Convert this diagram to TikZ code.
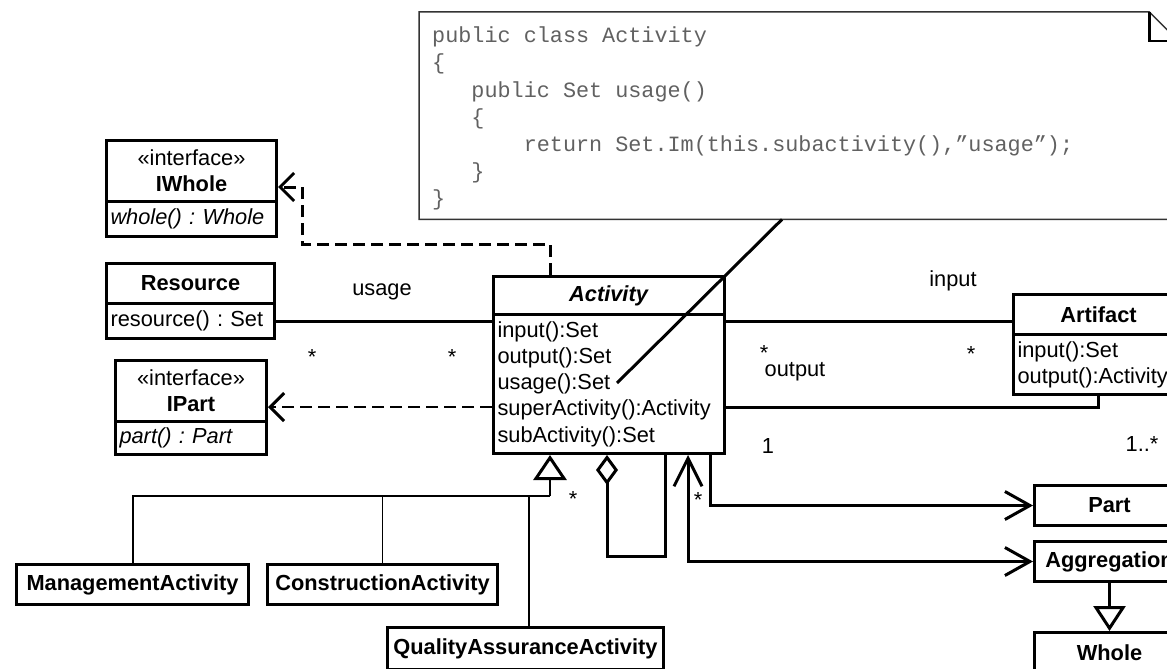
\documentclass[tikz,border=0pt]{standalone}
\usepackage{fontspec}
\setmainfont{Liberation Sans}
\setmonofont{Liberation Mono}
\usetikzlibrary{arrows.meta}
\frenchspacing

\begin{document}
\begin{tikzpicture}[x=1pt,y=-1pt,
		every node/.style={font=\fontsize{21.8}{26.2}\selectfont},
		cls/.style={draw,line width=3pt,inner xsep=4pt,inner ysep=0pt,anchor=north west,align=center},
		ops/.style={cls,align=left},
		lbl/.style={anchor=base,inner sep=0pt},
		code/.style={anchor=base west,inner sep=0pt,text=black!62,font=\ttfamily\fontsize{21.8}{26.2}\selectfont},
		assoc/.style={line width=3pt},
		realize/.style={dash pattern=on 12pt off 6pt,-{Straight Barb[length=14pt,width=28pt,line width=3pt]}},
		gen/.style={-{Triangle[open,length=25pt,width=33pt,line width=3pt]}},
		navbig/.tip={Straight Barb[length=28pt,width=28pt]},
		navend/.tip={Straight Barb[length=25pt,width=28pt]}]
 		\useasboundingbox (0,0) rectangle (1167,669);
 		% note with the code
 		\node[minimum width=759,minimum height=207,inner sep=0pt,anchor=north west] (note) at (419,12) {};
 		\draw[line width=1.5pt,black!80] (note.north west) -- ([xshift=-29pt]note.north east) -- ([yshift=-29pt]note.north east)
 				-- (note.south east) -- (note.south west) -- cycle;
 		\draw[line width=2.5pt] ([xshift=-29pt]note.north east) |- ([yshift=-29pt]note.north east);
 		\foreach \ind/\txt [count=\i] in {0/public class Activity, 0/\{, 3/public Set usage(), 3/\{,
 				7/{return Set.Im(this.subactivity(),”usage”);}, 3/\}, 0/\}}
 				{\node[code] (code\i) at (432+13.08*\ind,16+27*\i) {\txt};}
 		% classes
 		\node[cls,minimum width=170,minimum height=61] (iwholeH) at (105,139) {«interface»\\\textbf{IWhole}};
 		\node[ops,minimum width=170,minimum height=35,text width=162] (iwholeB) at (105,200) {\textit{whole() : Whole}};
 		\node[cls,minimum width=168,minimum height=40] (resH) at (105,262) {\textbf{Resource}};
 		\node[ops,minimum width=168,minimum height=35,text width=160] (resB) at (105,302) {resource() : Set};
 		\node[cls,minimum width=151,minimum height=61] (ipartH) at (114,359) {«interface»\\\textbf{IPart}};
 		\node[ops,minimum width=151,minimum height=33,text width=143] (ipartB) at (114,420) {\textit{part() : Part}};
 		\node[cls,minimum width=231,minimum height=38] (actH) at (492,275) {\textbf{\textit{Activity}}};
 		\node[ops,minimum width=231,minimum height=139,text width=223] (actB) at (492,313)
 				{input():Set\\output():Set\\usage():Set\\superActivity():Activity\\subActivity():Set};
 		\node[cls,minimum width=170,minimum height=40] (artH) at (1012,293) {\textbf{Artifact}};
 		\node[ops,minimum width=170,minimum height=60,text width=162] (artB) at (1012,333) {input():Set\\output():Activity};
 		\node[cls,minimum width=150,minimum height=40] (part) at (1033,484) {\textbf{Part}};
 		\node[cls,minimum width=150,minimum height=40] (aggr) at (1033,540) {\textbf{Aggregation}};
 		\node[cls,minimum width=150,minimum height=40] (whole) at (1033,631) {\textbf{Whole}};
 		\node[cls,minimum width=232,minimum height=40] (ma) at (15,563) {\textbf{ManagementActivity}};
 		\node[cls,minimum width=230,minimum height=40] (ca) at (266,563) {\textbf{ConstructionActivity}};
 		\node[cls,minimum width=276,minimum height=42] (qa) at (386,626) {\textbf{QualityAssuranceActivity}};
 		% bends
 		\coordinate (rw1) at (550,244);
 		\coordinate (rw2) at (302,187);
 		\coordinate (outTurn) at (1098,407);
 		\coordinate (genJ) at (550,496);
 		\coordinate (loopL) at (607,556);
 		\coordinate (loopR) at (665,556);
 		\coordinate (navX) at (688,560);
 		\coordinate (partX) at (710,505);
 		\coordinate (usageEnd) at (617,383);
 		\coordinate (noteFoot) at (782,219);
 		% connectors
 		\draw[line width=3pt,realize] (rw1 |- actH.north) -- (rw1) -| (rw2) -- (rw2 -| iwholeH.east);
 		\draw[line width=2pt,realize] (actB.west |- outTurn) -- (ipartH.east |- outTurn);
 		\draw[assoc] (resB.east) -- (resB.east -| actB.west);
 		\draw[assoc] (resB.east -| actB.east) -- (resB.east -| artH.west);
 		\draw[assoc] (actB.east |- outTurn) -- (outTurn) -- (outTurn |- artB.south);
 		\draw[assoc] (usageEnd) -- (noteFoot |- note.south);
 		\draw[line width=2pt] (ma.north) |- (genJ);
 		\draw[line width=1pt] (ca.north) -- (ca.north |- genJ);
 		\draw[line width=2pt] ([xshift=3pt]qa.north) -- ([xshift=3pt]qa.north |- genJ);
 		\draw[line width=2pt,gen] (genJ) -- (genJ |- actB.south);
 		\draw[assoc,{Diamond[open,length=30pt,width=22pt,line width=3pt]}-] (loopL |- actB.south) -- (loopL) -- (loopR) -- (loopR |- actB.south);
 		\draw[assoc,navbig-navend] (navX |- actB.south) |- (aggr.west);
 		\draw[assoc,-navend] (partX |- actB.south) |- (part.west);
 		\draw[assoc,-{Triangle[open,length=25pt,width=32pt,line width=3pt]}] (aggr.south) -- (whole.north);
 		% role names and multiplicities
 		\node[lbl] (lUsage) at (382,295) {usage};
 		\node[lbl] (mRes) at (312,364) {*};
 		\node[lbl] (mActU) at (452,364) {*};
 		\node[lbl] (lInput) at (953,286) {input};
 		\node[lbl] (mActI) at (764,360) {*};
 		\node[lbl] (lOutput) at (795,376) {output};
 		\node[lbl] (mArt) at (971,361) {*};
 		\node[lbl] (mOne) at (768,453) {1};
 		\node[lbl] (mMany) at (1142,451) {1..*};
 		\node[lbl] (mSub) at (573,506) {*};
 		\node[lbl] (mSup) at (698,507) {*};
\end{tikzpicture}
\end{document}
